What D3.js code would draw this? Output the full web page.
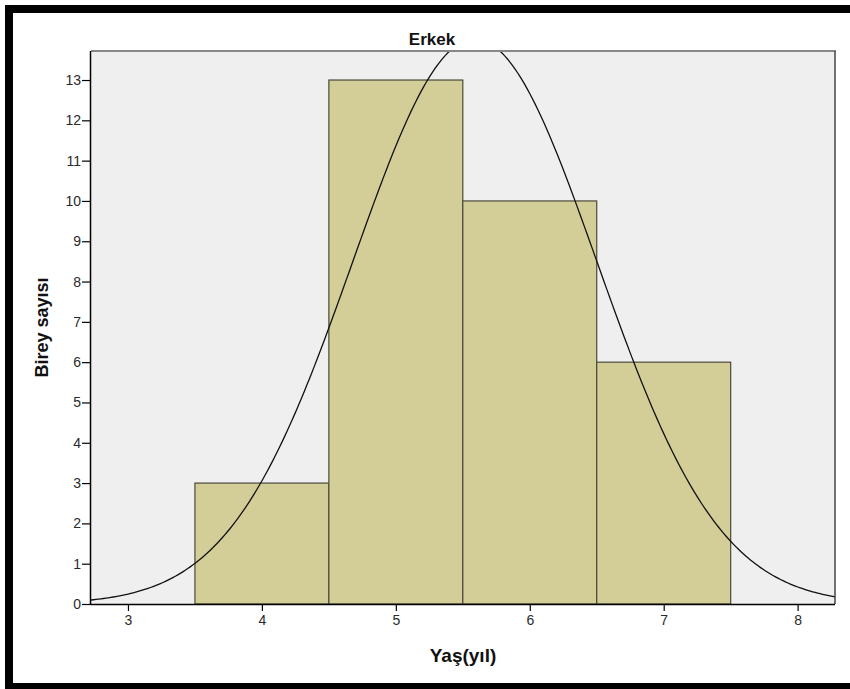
<!DOCTYPE html>
<html>
<head>
<meta charset="utf-8">
<script src="https://cdn.jsdelivr.net/npm/d3@7"></script>
<style>
body { margin: 0; background: #fff; }
svg { display: block; font-family: "Liberation Sans", Arial, sans-serif; }
.tick text { fill: #2a2a2a; font-size: 14px; }
</style>
</head>
<body>
<div id="chart"></div>
<script>
// histogram bins (yaş, yıl)
var binStarts = [3.5, 4.5, 5.5, 6.5];
var binWidth = 1;
var counts = [3, 13, 10, 6];
var xTicks = [3, 4, 5, 6, 7, 8];
var yTicks = [0, 1, 2, 3, 4, 5, 6, 7, 8, 9, 10, 11, 12, 13];

// normal curve parameters (SPSS fit)
var curveMean = 5.59;
var curveSd = 0.911;
var curveN = 32;

var W = 850, H = 689;
var plot = {left: 91, right: 835, top: 51, bottom: 604};

var svg = d3.select("#chart").append("svg")
	.attr("width", W)
	.attr("height", H);

// black frame (top, left, bottom)
svg.append("rect").attr("x", 5).attr("y", 5).attr("width", W - 5).attr("height", 8).attr("fill", "#000");
svg.append("rect").attr("x", 5).attr("y", 5).attr("width", 8).attr("height", H - 5).attr("fill", "#000");
svg.append("rect").attr("x", 5).attr("y", 683).attr("width", W - 5).attr("height", 6).attr("fill", "#000");

var xScale = d3.scaleLinear().domain([2.724, 8.279]).range([plot.left, plot.right]);
var yScale = d3.scaleLinear().domain([0, 13.72]).range([plot.bottom, plot.top]);

svg.append("rect")
	.attr("x", plot.left)
	.attr("y", plot.top)
	.attr("width", plot.right - plot.left)
	.attr("height", plot.bottom - plot.top)
	.attr("fill", "#efefef");

svg.append("defs").append("clipPath").attr("id", "clip")
	.append("rect")
	.attr("x", plot.left)
	.attr("y", plot.top)
	.attr("width", plot.right - plot.left)
	.attr("height", plot.bottom - plot.top);

var bins = binStarts.map(function(d, i) { return {x0: d, x1: d + binWidth, n: counts[i]}; });

svg.selectAll(".bar")
	.data(bins)
	.enter()
	.append("rect")
	.attr("class", "bar")
	.attr("x", function(d) { return xScale(d.x0); })
	.attr("y", function(d) { return yScale(d.n); })
	.attr("width", function(d) { return xScale(d.x1) - xScale(d.x0); })
	.attr("height", function(d) { return yScale(0) - yScale(d.n); })
	.attr("fill", "#d3ce97")
	.attr("stroke", "#4a4a3a")
	.attr("stroke-width", 1.2);

// normal curve
var curvePts = d3.range(0, 301).map(function(i) {
	var x = 2.724 + (8.279 - 2.724) * i / 300;
	var z = (x - curveMean) / curveSd;
	return [x, curveN * binWidth * Math.exp(-0.5 * z * z) / (curveSd * Math.sqrt(2 * Math.PI))];
});

svg.append("path")
	.datum(curvePts)
	.attr("clip-path", "url(#clip)")
	.attr("fill", "none")
	.attr("stroke", "#111")
	.attr("stroke-width", 1.3)
	.attr("d", d3.line().x(function(d) { return xScale(d[0]); }).y(function(d) { return yScale(d[1]); }));

// frame of the plot: top gray, right dark
svg.append("line")
	.attr("x1", plot.left).attr("x2", plot.right + 1)
	.attr("y1", plot.top).attr("y2", plot.top)
	.attr("stroke", "#888").attr("stroke-width", 2);
svg.append("line")
	.attr("x1", plot.right).attr("x2", plot.right)
	.attr("y1", plot.top).attr("y2", plot.bottom)
	.attr("stroke", "#444").attr("stroke-width", 1.5);

// axes
var xAxis = svg.append("g")
	.attr("transform", "translate(0," + plot.bottom + ")")
	.call(d3.axisBottom(xScale).tickValues(xTicks).tickSize(7).tickPadding(4).tickFormat(d3.format("d")));
xAxis.select(".domain").attr("d", "M" + plot.left + ",0.5H" + plot.right).attr("stroke", "#000").attr("stroke-width", 1.5);

var yAxis = svg.append("g")
	.attr("transform", "translate(" + plot.left + ",0)")
	.call(d3.axisLeft(yScale).tickValues(yTicks).tickSize(9).tickPadding(1).tickFormat(d3.format("d")));
yAxis.select(".domain").attr("d", "M-0.5," + plot.top + "V" + plot.bottom).attr("stroke", "#000").attr("stroke-width", 1.5);

svg.selectAll(".tick line").attr("stroke", "#000").attr("stroke-width", 1.2);

// titles
svg.append("text")
	.attr("x", 432)
	.attr("y", 45)
	.attr("text-anchor", "middle")
	.attr("font-weight", "bold")
	.attr("font-size", "17px")
	.attr("fill", "#111")
	.text("Erkek");

svg.append("text")
	.attr("x", (plot.left + plot.right) / 2)
	.attr("y", 662)
	.attr("text-anchor", "middle")
	.attr("font-weight", "bold")
	.attr("font-size", "19px")
	.attr("fill", "#111")
	.text("Yaş(yıl)");

svg.append("text")
	.attr("transform", "translate(48," + (plot.top + plot.bottom) / 2 + ") rotate(-90)")
	.attr("text-anchor", "middle")
	.attr("font-weight", "bold")
	.attr("font-size", "18px")
	.attr("fill", "#111")
	.text("Birey sayısı");
</script>
</body>
</html>
